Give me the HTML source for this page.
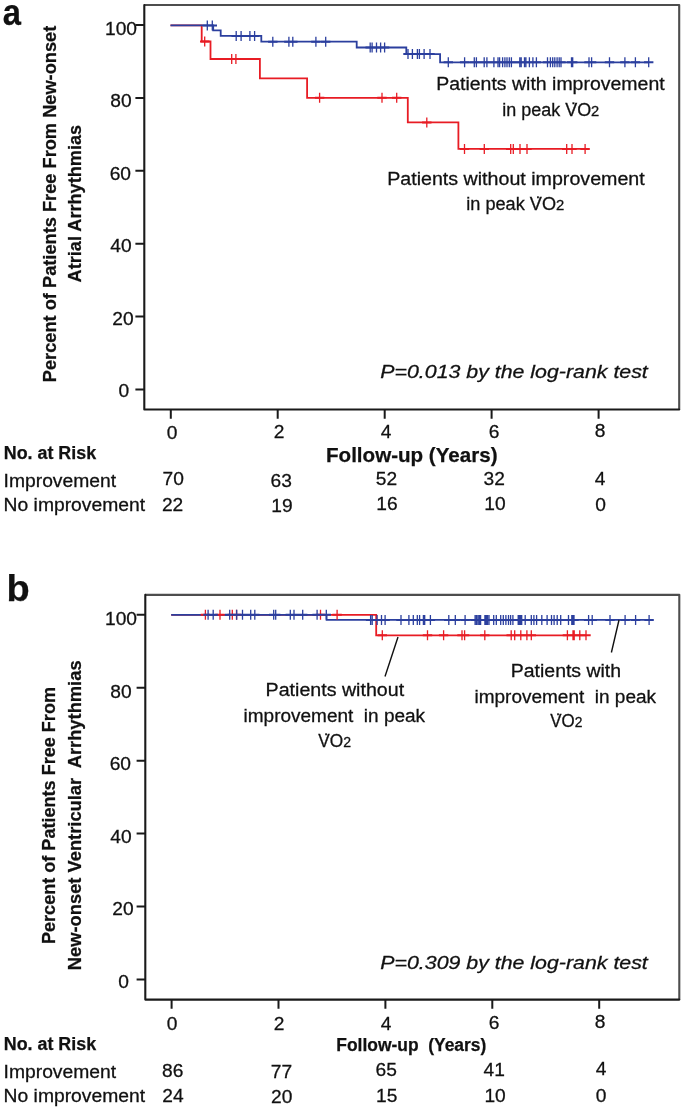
<!DOCTYPE html>
<html><head><meta charset="utf-8"><title>Figure</title>
<style>
html,body{margin:0;padding:0;background:#fff}
svg{display:block;font-family:"Liberation Sans",sans-serif}
text{fill:#111;stroke:#111;stroke-width:.28px}
text[font-weight=bold]{stroke-width:.25px}
</style></head>
<body>
<svg width="685" height="1110" viewBox="0 0 685 1110">
<rect width="685" height="1110" fill="#fff"/>
<path d="M144.3 5.0H679.2V409.45" fill="none" stroke="#4d4d4d" stroke-width="2.1" stroke-linejoin="round"/>
<path d="M144.3 5.0V409.45H679.2" fill="none" stroke="#1a1a1a" stroke-width="2.1" stroke-linejoin="round" stroke-linecap="round"/>
<text x="137.0" y="34.8" font-size="19.2" text-anchor="end">100</text>
<text x="131.6" y="106.7" font-size="19.2" text-anchor="end">80</text>
<text x="131.0" y="179.7" font-size="19.2" text-anchor="end">60</text>
<text x="131.6" y="252.3" font-size="19.2" text-anchor="end">40</text>
<text x="133.7" y="324.7" font-size="19.2" text-anchor="end">20</text>
<text x="129.2" y="397.4" font-size="19.2" text-anchor="end">0</text>
<text x="172.1" y="438.7" font-size="19.2" text-anchor="middle">0</text>
<text x="279" y="438.4" font-size="19.2" text-anchor="middle">2</text>
<text x="386" y="438.2" font-size="19.2" text-anchor="middle">4</text>
<text x="494.1" y="437.8" font-size="19.2" text-anchor="middle">6</text>
<text x="600" y="436.7" font-size="19.2" text-anchor="middle">8</text>
<path d="M135.4 24.9H144.3 M135.4 97.9H144.3 M135.4 170.8H144.3 M135.4 243.7H144.3 M135.4 316.6H144.3 M135.4 389.4H144.3 M170.8 409.45V418.65 M277.7 409.45V418.65 M384.7 409.45V418.65 M491.6 409.45V418.65 M598.6 409.45V418.65 " stroke="#1a1a1a" stroke-width="2" fill="none"/>
<text x="2.8" y="24.5" font-size="37" font-weight="bold" textLength="18.2" lengthAdjust="spacingAndGlyphs" fill="#000">a</text>
<text x="56.0" y="382.2" font-size="19" font-weight="bold" textLength="356.5" lengthAdjust="spacingAndGlyphs" transform="rotate(-90 56.0 382.2)">Percent of Patients Free From New-onset</text>
<text x="81.2" y="282.4" font-size="19" font-weight="bold" textLength="157.5" lengthAdjust="spacingAndGlyphs" transform="rotate(-90 81.2 282.4)">Atrial Arrhythmias</text>
<path d="M170.5 25.4 L201.7 25.4 L201.7 41.5 L210.5 41.5 L210.5 59 L259.9 59 L259.9 78.3 L307.1 78.3 L307.1 97.8 L407.8 97.8 L407.8 122.4 L458.4 122.4 L458.4 148.9 L585.1 148.9" stroke="#e81c24" stroke-width="1.8" fill="none"/>
<path d="M170.5 25.4 L213.2 25.4 L213.2 30.4 L220.7 30.4 L220.7 35.9 L261.3 35.9 L261.3 41.7 L356.7 41.7 L356.7 47.5 L406.3 47.5 L406.3 54.1 L440.1 54.1 L440.1 62.3 L648.7 62.3" stroke="#2b3f9e" stroke-width="1.8" fill="none"/>
<path d="M200.0 41.5H209.4 M227.0 59H236.4 M231.2 59H240.6 M314.9 97.8H324.3 M377.3 97.8H386.7 M392.0 97.8H401.4 M422.1 122.4H431.5 M459.8 148.9H469.2 M479.6 148.9H489.0 M506.0 148.9H515.4 M508.6 148.9H518.0 M515.3 148.9H524.7 M522.3 148.9H531.7 M562.0 148.9H571.4 M567.3 148.9H576.7 M580.4 148.9H589.8" stroke="#e81c24" stroke-width="2.0" fill="none"/><path d="M204.7 36.5V46.5 M231.7 54V64 M235.9 54V64 M319.6 92.8V102.8 M382.0 92.8V102.8 M396.7 92.8V102.8 M426.8 117.4V127.4 M464.5 143.9V153.9 M484.3 143.9V153.9 M510.7 143.9V153.9 M513.3 143.9V153.9 M520 143.9V153.9 M527 143.9V153.9 M566.7 143.9V153.9 M572 143.9V153.9 M585.1 143.9V153.9" stroke="#e81c24" stroke-width="1.3" fill="none"/>
<path d="M202.6 25.4H212.0 M207.6 25.4H217.0 M231.5 35.9H240.9 M236.4 35.9H245.8 M245.2 35.9H254.6 M249.9 35.9H259.3 M268.1 41.7H277.5 M284.2 41.7H293.6 M288.1 41.7H297.5 M311.2 41.7H320.6 M321.0 41.7H330.4 M365.5 47.5H374.9 M367.4 47.5H376.8 M371.8 47.5H381.2 M375.9 47.5H385.3 M379.9 47.5H389.3 M403.3 54.1H412.7 M407.7 54.1H417.1 M412.7 54.1H422.1 M414.7 54.1H424.1 M419.4 54.1H428.8 M425.3 54.1H434.7 M443.6 62.3H453.0 M459.9 62.3H469.3 M469.6 62.3H479.0 M471.7 62.3H481.1 M479.5 62.3H488.9 M482.2 62.3H491.6 M489.2 62.3H498.6 M493.3 62.3H502.7 M494.9 62.3H504.3 M497.9 62.3H507.3 M500.2 62.3H509.6 M502.3 62.3H511.7 M504.6 62.3H514.0 M506.7 62.3H516.1 M515.1 62.3H524.5 M516.5 62.3H525.9 M519.8 62.3H529.2 M521.2 62.3H530.6 M524.7 62.3H534.1 M528.2 62.3H537.6 M531.7 62.3H541.1 M542.8 62.3H552.2 M545.7 62.3H555.1 M548.0 62.3H557.4 M550.1 62.3H559.5 M552.4 62.3H561.8 M554.5 62.3H563.9 M556.3 62.3H565.7 M566.8 62.3H576.2 M568.0 62.3H577.4 M584.3 62.3H593.7 M586.9 62.3H596.3 M604.8 62.3H614.2 M620.2 62.3H629.6 M630.7 62.3H640.1 M644.0 62.3H653.4" stroke="#2b3f9e" stroke-width="2.0" fill="none"/><path d="M207.3 20.4V30.4 M212.3 20.4V30.4 M236.2 30.9V40.9 M241.1 30.9V40.9 M249.9 30.9V40.9 M254.6 30.9V40.9 M272.8 36.7V46.7 M288.9 36.7V46.7 M292.8 36.7V46.7 M315.9 36.7V46.7 M325.7 36.7V46.7 M370.2 42.5V52.5 M372.1 42.5V52.5 M376.5 42.5V52.5 M380.6 42.5V52.5 M384.6 42.5V52.5 M408 49.1V59.1 M412.4 49.1V59.1 M417.4 49.1V59.1 M419.4 49.1V59.1 M424.1 49.1V59.1 M430 49.1V59.1 M448.3 57.3V67.3 M464.6 57.3V67.3 M474.3 57.3V67.3 M476.4 57.3V67.3 M484.2 57.3V67.3 M486.9 57.3V67.3 M493.9 57.3V67.3 M498 57.3V67.3 M499.6 57.3V67.3 M502.6 57.3V67.3 M504.9 57.3V67.3 M507 57.3V67.3 M509.3 57.3V67.3 M511.4 57.3V67.3 M519.8 57.3V67.3 M521.2 57.3V67.3 M524.5 57.3V67.3 M525.9 57.3V67.3 M529.4 57.3V67.3 M532.9 57.3V67.3 M536.4 57.3V67.3 M547.5 57.3V67.3 M550.4 57.3V67.3 M552.7 57.3V67.3 M554.8 57.3V67.3 M557.1 57.3V67.3 M559.2 57.3V67.3 M561 57.3V67.3 M571.5 57.3V67.3 M572.7 57.3V67.3 M589 57.3V67.3 M591.6 57.3V67.3 M609.5 57.3V67.3 M624.9 57.3V67.3 M635.4 57.3V67.3 M648.7 57.3V67.3" stroke="#2b3f9e" stroke-width="1.3" fill="none"/>
<text x="436.2" y="90.1" font-size="18" textLength="228.5" lengthAdjust="spacingAndGlyphs">Patients with improvement</text>
<text x="502.3" y="115.8" font-size="18" textLength="97" lengthAdjust="spacingAndGlyphs">in peak V<tspan dx="-6" dy="0">˙</tspan><tspan dx="0" dy="0">O</tspan><tspan font-size="0.82em">2</tspan></text>
<text x="387.2" y="184.6" font-size="18" textLength="257.5" lengthAdjust="spacingAndGlyphs">Patients without improvement</text>
<text x="466.3" y="209.7" font-size="18" textLength="98" lengthAdjust="spacingAndGlyphs">in peak V<tspan dx="-6" dy="0">˙</tspan><tspan dx="0" dy="0">O</tspan><tspan font-size="0.82em">2</tspan></text>
<text x="380.3" y="378" font-size="18.6" font-style="italic" textLength="267.5" lengthAdjust="spacingAndGlyphs">P=0.013 by the log-rank test</text>
<text x="3.8" y="459" font-size="18" font-weight="bold" textLength="92.3" lengthAdjust="spacingAndGlyphs">No. at Risk</text>
<text x="326.0" y="461.7" font-size="20.5" font-weight="bold" textLength="171.5" lengthAdjust="spacingAndGlyphs">Follow-up (Years)</text>
<text x="3.6" y="486.8" font-size="18" textLength="112.5" lengthAdjust="spacingAndGlyphs">Improvement</text>
<text x="3.6" y="510.8" font-size="18" textLength="141.5" lengthAdjust="spacingAndGlyphs">No improvement</text>
<text x="173.2" y="485.4" font-size="19.2" text-anchor="middle">70</text>
<text x="281.2" y="486.7" font-size="19.2" text-anchor="middle">63</text>
<text x="386.4" y="484.7" font-size="19.2" text-anchor="middle">52</text>
<text x="494.2" y="484.7" font-size="19.2" text-anchor="middle">32</text>
<text x="600.0" y="485.4" font-size="19.2" text-anchor="middle">4</text>
<text x="172.6" y="510.8" font-size="19.2" text-anchor="middle">22</text>
<text x="282.0" y="511.9" font-size="19.2" text-anchor="middle">19</text>
<text x="386.9" y="510.2" font-size="19.2" text-anchor="middle">16</text>
<text x="495.0" y="509.9" font-size="19.2" text-anchor="middle">10</text>
<text x="600.5" y="511.2" font-size="19.2" text-anchor="middle">0</text>
<path d="M145.3 594.85H679.3V999.6" fill="none" stroke="#4d4d4d" stroke-width="2.1" stroke-linejoin="round"/>
<path d="M145.3 594.85V999.6H679.3" fill="none" stroke="#1a1a1a" stroke-width="2.1" stroke-linejoin="round" stroke-linecap="round"/>
<text x="137.0" y="624.8" font-size="19.2" text-anchor="end">100</text>
<text x="131.6" y="697.5" font-size="19.2" text-anchor="end">80</text>
<text x="131.0" y="770.1" font-size="19.2" text-anchor="end">60</text>
<text x="131.6" y="842.9" font-size="19.2" text-anchor="end">40</text>
<text x="133.7" y="915.1" font-size="19.2" text-anchor="end">20</text>
<text x="128.9" y="987.5" font-size="19.2" text-anchor="end">0</text>
<text x="172.2" y="1029.7" font-size="19.2" text-anchor="middle">0</text>
<text x="279" y="1029.5" font-size="19.2" text-anchor="middle">2</text>
<text x="386" y="1029.5" font-size="19.2" text-anchor="middle">4</text>
<text x="494.1" y="1028.9" font-size="19.2" text-anchor="middle">6</text>
<text x="600" y="1028.0" font-size="19.2" text-anchor="middle">8</text>
<path d="M136.6 614.8H145.3 M136.6 687.8H145.3 M136.6 760.7H145.3 M136.6 833.6H145.3 M136.6 906.6H145.3 M136.6 979.5H145.3 M171.6 999.6V1008.8000000000001 M278.5 999.6V1008.8000000000001 M385.4 999.6V1008.8000000000001 M492.3 999.6V1008.8000000000001 M599.2 999.6V1008.8000000000001 " stroke="#1a1a1a" stroke-width="2" fill="none"/>
<text x="6.4" y="600.5" font-size="36" font-weight="bold" textLength="23.2" lengthAdjust="spacingAndGlyphs" fill="#000">b</text>
<text x="55.3" y="944" font-size="19" font-weight="bold" textLength="257" lengthAdjust="spacingAndGlyphs" transform="rotate(-90 55.3 944)">Percent of Patients Free From</text>
<text x="80.8" y="970.2" font-size="19" font-weight="bold" textLength="309.8" lengthAdjust="spacingAndGlyphs" transform="rotate(-90 80.8 970.2)">New-onset Ventricular  Arrhythmias</text>
<path d="M171.2 614.8 L376.2 614.8 L376.2 635.3 L586 635.3" stroke="#e81c24" stroke-width="1.8" fill="none"/>
<path d="M171.2 614.8 L326.6 614.8 L326.6 619.9 L649.1 619.9" stroke="#2b3f9e" stroke-width="1.8" fill="none"/>
<path d="M200.7 614.8H210.1 M215.3 614.8H224.7 M227.6 614.8H237.0 M231.8 614.8H241.2 M315.8 614.8H325.2 M332.4 614.8H341.8 M377.6 635.3H387.0 M422.8 635.3H432.2 M438.9 635.3H448.3 M457.3 635.3H466.7 M459.9 635.3H469.3 M480.1 635.3H489.5 M506.5 635.3H515.9 M510.0 635.3H519.4 M516.1 635.3H525.5 M522.2 635.3H531.6 M526.6 635.3H536.0 M562.7 635.3H572.1 M568.3 635.3H577.7 M569.5 635.3H578.9 M575.1 635.3H584.5 M581.3 635.3H590.7" stroke="#e81c24" stroke-width="2.0" fill="none"/><path d="M205.4 609.8V619.8 M220 609.8V619.8 M232.3 609.8V619.8 M236.5 609.8V619.8 M320.5 609.8V619.8 M337.1 609.8V619.8 M382.3 630.3V640.3 M427.5 630.3V640.3 M443.6 630.3V640.3 M462 630.3V640.3 M464.6 630.3V640.3 M484.8 630.3V640.3 M511.2 630.3V640.3 M514.7 630.3V640.3 M520.8 630.3V640.3 M526.9 630.3V640.3 M531.3 630.3V640.3 M567.4 630.3V640.3 M573.0 630.3V640.3 M574.2 630.3V640.3 M579.8 630.3V640.3 M586 630.3V640.3" stroke="#e81c24" stroke-width="1.3" fill="none"/>
<path d="M203.4 614.8H212.8 M208.5 614.8H217.9 M225.0 614.8H234.4 M232.0 614.8H241.4 M237.8 614.8H247.2 M246.0 614.8H255.4 M250.1 614.8H259.5 M269.0 614.8H278.4 M271.0 614.8H280.4 M285.6 614.8H295.0 M289.3 614.8H298.7 M298.0 614.8H307.4 M312.4 614.8H321.8 M321.6 614.8H331.0 M365.9 619.9H375.3 M367.5 619.9H376.9 M372.4 619.9H381.8 M376.8 619.9H386.2 M380.4 619.9H389.8 M396.3 619.9H405.7 M404.2 619.9H413.6 M408.6 619.9H418.0 M412.6 619.9H422.0 M414.9 619.9H424.3 M418.7 619.9H428.1 M420.0 619.9H429.4 M425.7 619.9H435.1 M444.1 619.9H453.5 M450.6 619.9H460.0 M460.4 619.9H469.8 M470.4 619.9H479.8 M471.8 619.9H481.2 M473.3 619.9H482.7 M474.7 619.9H484.1 M475.9 619.9H485.3 M480.2 619.9H489.6 M481.5 619.9H490.9 M482.8 619.9H492.2 M484.3 619.9H493.7 M489.0 619.9H498.4 M491.6 619.9H501.0 M496.0 619.9H505.4 M498.6 619.9H508.0 M501.2 619.9H510.6 M503.8 619.9H513.2 M505.9 619.9H515.3 M508.2 619.9H517.6 M513.5 619.9H522.9 M514.7 619.9H524.1 M515.9 619.9H525.3 M517.0 619.9H526.4 M520.5 619.9H529.9 M526.6 619.9H536.0 M529.2 619.9H538.6 M531.9 619.9H541.3 M537.1 619.9H546.5 M542.4 619.9H551.8 M546.8 619.9H556.2 M549.4 619.9H558.8 M552.5 619.9H561.9 M556.0 619.9H565.4 M563.8 619.9H573.2 M567.1 619.9H576.5 M568.3 619.9H577.7 M569.3 619.9H578.7 M583.9 619.9H593.3 M587.5 619.9H596.9 M605.3 619.9H614.7 M620.4 619.9H629.8 M630.9 619.9H640.3 M644.4 619.9H653.8" stroke="#2b3f9e" stroke-width="2.0" fill="none"/><path d="M208.1 609.8V619.8 M213.2 609.8V619.8 M229.7 609.8V619.8 M236.7 609.8V619.8 M242.5 609.8V619.8 M250.7 609.8V619.8 M254.8 609.8V619.8 M273.7 609.8V619.8 M275.7 609.8V619.8 M290.3 609.8V619.8 M294 609.8V619.8 M302.7 609.8V619.8 M317.1 609.8V619.8 M326.3 609.8V619.8 M370.6 614.9V624.9 M372.2 614.9V624.9 M377.1 614.9V624.9 M381.5 614.9V624.9 M385.1 614.9V624.9 M401 614.9V624.9 M408.9 614.9V624.9 M413.3 614.9V624.9 M417.3 614.9V624.9 M419.6 614.9V624.9 M423.4 614.9V624.9 M424.7 614.9V624.9 M430.4 614.9V624.9 M448.8 614.9V624.9 M455.3 614.9V624.9 M465.1 614.9V624.9 M475.1 614.9V624.9 M476.5 614.9V624.9 M478 614.9V624.9 M479.4 614.9V624.9 M480.6 614.9V624.9 M484.9 614.9V624.9 M486.2 614.9V624.9 M487.5 614.9V624.9 M489 614.9V624.9 M493.7 614.9V624.9 M496.3 614.9V624.9 M500.7 614.9V624.9 M503.3 614.9V624.9 M505.9 614.9V624.9 M508.5 614.9V624.9 M510.6 614.9V624.9 M512.9 614.9V624.9 M518.2 614.9V624.9 M519.4 614.9V624.9 M520.6 614.9V624.9 M521.7 614.9V624.9 M525.2 614.9V624.9 M531.3 614.9V624.9 M533.9 614.9V624.9 M536.6 614.9V624.9 M541.8 614.9V624.9 M547.1 614.9V624.9 M551.5 614.9V624.9 M554.1 614.9V624.9 M557.2 614.9V624.9 M560.7 614.9V624.9 M568.5 614.9V624.9 M571.8 614.9V624.9 M573.0 614.9V624.9 M574.0 614.9V624.9 M588.6 614.9V624.9 M592.2 614.9V624.9 M610 614.9V624.9 M625.1 614.9V624.9 M635.6 614.9V624.9 M649.1 614.9V624.9" stroke="#2b3f9e" stroke-width="1.3" fill="none"/>
<path d="M398 637L385 676.5M619 620L611.4 652.5" stroke="#111" stroke-width="1.4" fill="none"/>
<text x="265.6" y="696.3" font-size="18" textLength="138.5" lengthAdjust="spacingAndGlyphs">Patients without</text>
<text x="243.6" y="722" font-size="18" textLength="181.5" lengthAdjust="spacingAndGlyphs">improvement  in peak</text>
<text x="318.2" y="746.5" font-size="18" textLength="32.8" lengthAdjust="spacingAndGlyphs">V<tspan dx="-6" dy="0">˙</tspan><tspan dx="0" dy="0">O</tspan><tspan font-size="0.82em">2</tspan></text>
<text x="510.8" y="676.8" font-size="18" textLength="110.3" lengthAdjust="spacingAndGlyphs">Patients with</text>
<text x="474.5" y="702.6" font-size="18" textLength="181.5" lengthAdjust="spacingAndGlyphs">improvement  in peak</text>
<text x="550.3" y="726.6" font-size="18" textLength="32.2" lengthAdjust="spacingAndGlyphs">V<tspan dx="-6" dy="0">˙</tspan><tspan dx="0" dy="0">O</tspan><tspan font-size="0.82em">2</tspan></text>
<text x="380.3" y="968.5" font-size="18.6" font-style="italic" textLength="267.5" lengthAdjust="spacingAndGlyphs">P=0.309 by the log-rank test</text>
<text x="3.8" y="1050.2" font-size="18" font-weight="bold" textLength="92.3" lengthAdjust="spacingAndGlyphs">No. at Risk</text>
<text x="336.3" y="1051" font-size="18" font-weight="bold" textLength="150" lengthAdjust="spacingAndGlyphs">Follow-up  (Years)</text>
<text x="3.6" y="1077.7" font-size="18" textLength="112.5" lengthAdjust="spacingAndGlyphs">Improvement</text>
<text x="3.6" y="1102.2" font-size="18" textLength="141.5" lengthAdjust="spacingAndGlyphs">No improvement</text>
<text x="172.7" y="1076.7" font-size="19.2" text-anchor="middle">86</text>
<text x="281.5" y="1077.6" font-size="19.2" text-anchor="middle">77</text>
<text x="386.2" y="1075.7" font-size="19.2" text-anchor="middle">65</text>
<text x="494.2" y="1075.7" font-size="19.2" text-anchor="middle">41</text>
<text x="601.0" y="1075.4" font-size="19.2" text-anchor="middle">4</text>
<text x="172.9" y="1101.9" font-size="19.2" text-anchor="middle">24</text>
<text x="281.7" y="1103.4" font-size="19.2" text-anchor="middle">20</text>
<text x="386.7" y="1101.5" font-size="19.2" text-anchor="middle">15</text>
<text x="495.1" y="1101.5" font-size="19.2" text-anchor="middle">10</text>
<text x="601.0" y="1101.5" font-size="19.2" text-anchor="middle">0</text>
</svg>
</body></html>
